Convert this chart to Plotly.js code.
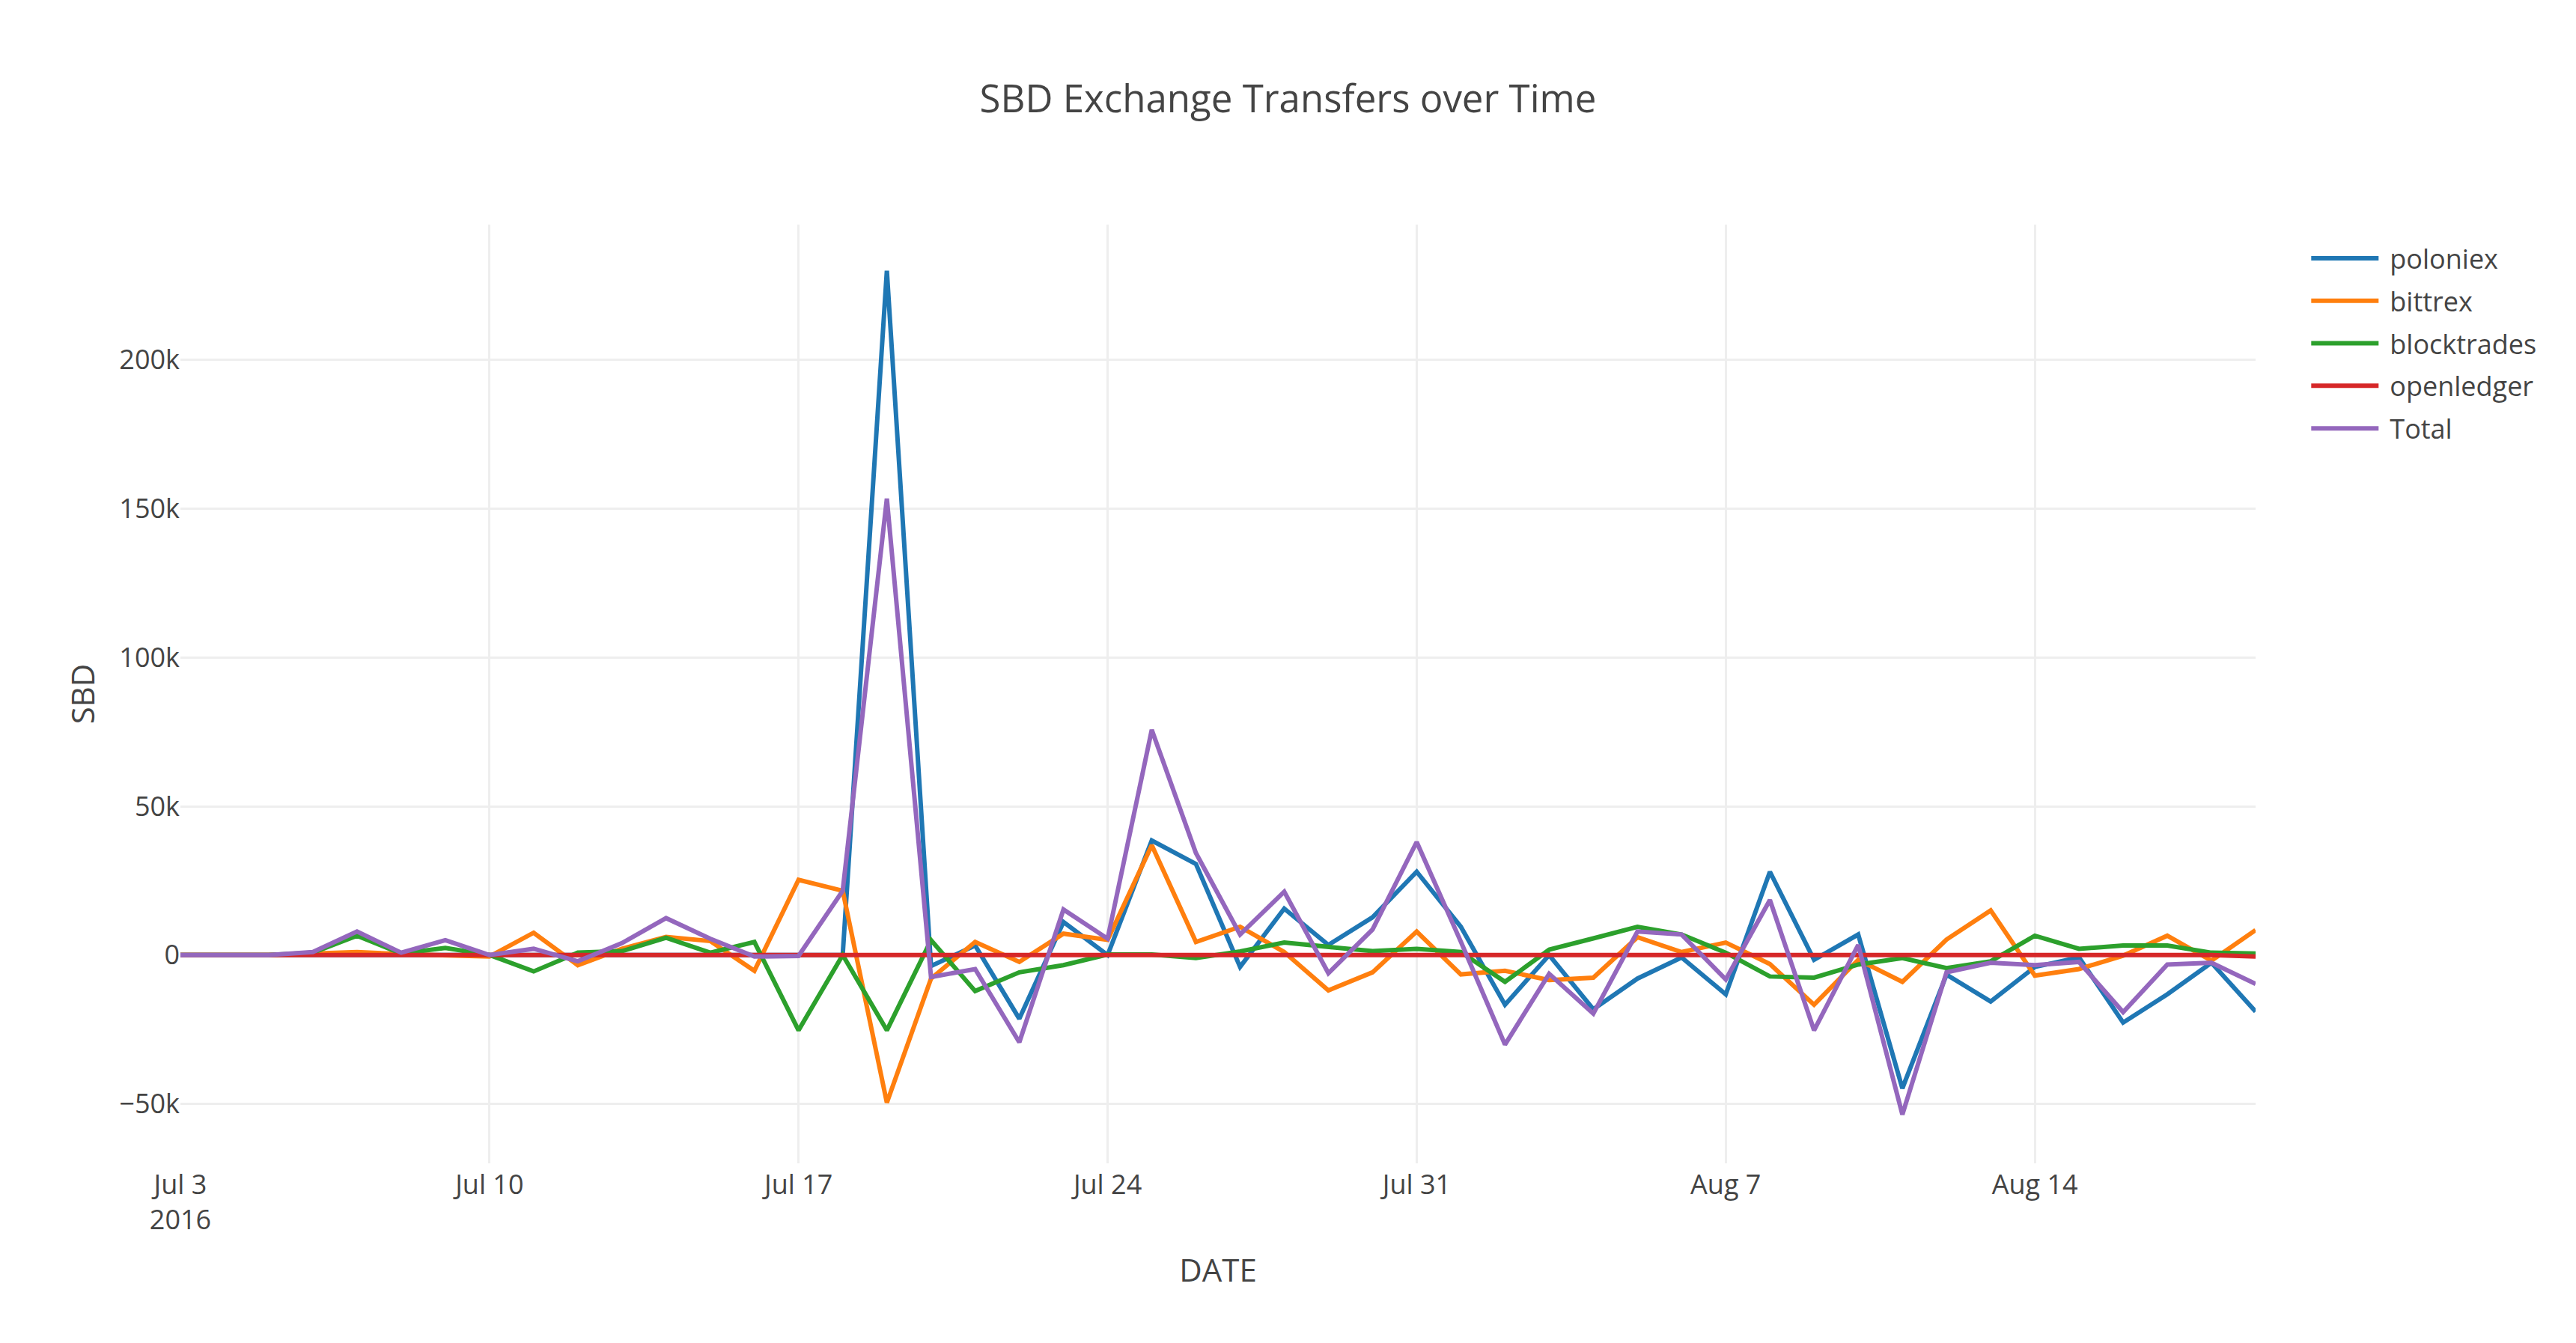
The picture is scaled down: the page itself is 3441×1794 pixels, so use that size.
<!DOCTYPE html>
<html>
<head>
<meta charset="utf-8">
<script src="https://cdn.plot.ly/plotly-3.0.1.min.js"></script>
<style>
  body { margin: 0; background: #fff; }
  #chart { width: 3441px; height: 1794px; }
</style>
</head>
<body>
<div id="chart"></div>
<script>
// daily net transfers, Jul 3 - Aug 19 2016
var dates = [
  '2016-07-03', '2016-07-04', '2016-07-05', '2016-07-06', '2016-07-07', '2016-07-08', '2016-07-09',
  '2016-07-10', '2016-07-11', '2016-07-12', '2016-07-13', '2016-07-14', '2016-07-15', '2016-07-16',
  '2016-07-17', '2016-07-18', '2016-07-19', '2016-07-20', '2016-07-21', '2016-07-22', '2016-07-23',
  '2016-07-24', '2016-07-25', '2016-07-26', '2016-07-27', '2016-07-28', '2016-07-29', '2016-07-30',
  '2016-07-31', '2016-08-01', '2016-08-02', '2016-08-03', '2016-08-04', '2016-08-05', '2016-08-06',
  '2016-08-07', '2016-08-08', '2016-08-09', '2016-08-10', '2016-08-11', '2016-08-12', '2016-08-13',
  '2016-08-14', '2016-08-15', '2016-08-16', '2016-08-17', '2016-08-18', '2016-08-19'
];

var poloniex = [
  0, 0, 0, 0, 0, 0, 0,
  0, 0, 0, 0, 0, 0, 0,
  0, 0, 230000, -3700, 3200, -21400, 11100,
  0, 38500, 30600, -4000, 15600, 3400, 12700,
  28000, 9500, -16700, 0, -18200, -7900, -800,
  -13200, 28000, -1600, 6900, -44800, -6600, -15600,
  -4000, -800, -22700, -13200, -2600, -19000
];

var bittrex = [
  0, 0, 0, 500, 1000, 300, 0,
  -500, 7500, -3400, 2100, 6100, 4700, -5300,
  25300, 21600, -49600, -7900, 4400, -2300, 7200,
  5100, 36900, 4400, 9500, 1000, -11900, -5800,
  7900, -6500, -5300, -8400, -7600, 6000, 1000,
  4200, -3000, -16700, -1600, -9000, 5200, 15000,
  -6900, -4700, -200, 6500, -1900, 8400
];

var blocktrades = [
  0, 0, 0, 800, 6500, 500, 2400,
  0, -5500, 800, 1300, 5800, 800, 4400,
  -25300, 0, -25300, 5000, -12100, -5800, -3400,
  200, 200, -1000, 1200, 4200, 2600, 1300,
  2100, 1000, -9000, 1800, 5600, 9500, 6900,
  800, -7200, -7600, -3200, -1000, -4400, -2100,
  6500, 2100, 3200, 3200, 800, 500
];

var openledger = [
  0, 0, 0, 0, 0, 0, 0,
  0, 0, 0, 0, 0, 0, 0,
  0, 0, 0, 0, 0, 0, 0,
  0, 0, 0, 0, 0, 0, 0,
  0, 0, 0, 0, 0, 0, 0,
  0, 0, 0, 0, 0, 0, 0,
  0, 0, 0, 0, 0, -500
];

var total = [
  0, 0, 0, 1000, 7900, 800, 5000,
  0, 2100, -2100, 4000, 12400, 5500, -500,
  -300, 21600, 153400, -7400, -4700, -29300, 15300,
  5500, 75700, 34300, 6900, 21300, -6100, 8600,
  38000, 4500, -30100, -6300, -19700, 7900, 6900,
  -8200, 18500, -25300, 3400, -53600, -5800, -2600,
  -3400, -2300, -19200, -3200, -2600, -9700
];

var names = ['poloniex', 'bittrex', 'blocktrades', 'openledger', 'Total'];
var colors = ['#1f77b4', '#ff7f0e', '#2ca02c', '#d62728', '#9467bd'];
var series = [poloniex, bittrex, blocktrades, openledger, total];

var traces = [];
for (var i = 0; i < series.length; i++) {
    traces.push({
        x: dates,
        y: series[i],
        type: 'scatter',
        mode: 'lines',
        name: names[i],
        legendgroup: names[i],
        line: { color: colors[i], width: 6 }
    });
}

var font = '"Open Sans", Verdana, Arial, sans-serif';

var layout = {
    width: 3441,
    height: 1794,
    font: { family: font, size: 36, color: '#444' },
    title: {
        text: 'SBD Exchange Transfers over Time',
        font: { size: 51 },
        y: 0.9264,
        yanchor: 'middle'
    },
    margin: { l: 241, r: 428, t: 300, b: 240 },
    paper_bgcolor: '#fff',
    plot_bgcolor: '#fff',
    xaxis: {
        title: { text: 'DATE', font: { size: 42 }, standoff: 30 },
        type: 'date',
        range: ['2016-07-03', '2016-08-19'],
        tick0: '2016-07-03',
        dtick: 7 * 86400000,
        ticklabelstandoff: 4,
        gridcolor: '#eee',
        gridwidth: 3,
        zeroline: false,
        tickfont: { size: 36 }
    },
    yaxis: {
        title: { text: 'SBD', font: { size: 42 }, standoff: 19 },
        range: [-70000, 245500],
        dtick: 50000,
        gridcolor: '#eee',
        gridwidth: 3,
        zeroline: false,
        tickfont: { size: 36 }
    },
    legend: {
        x: 1.025,
        y: 0.988,
        itemwidth: 100,
        tracegroupgap: 7,
        font: { size: 36 }
    },
    showlegend: true
};

Plotly.newPlot('chart', traces, layout, { displayModeBar: false, staticPlot: true }).then(function (gd) {
    // longer legend swatches, like the exported figure
    var paths = gd.querySelectorAll('.legendlines path');
    paths.forEach(function (p) { p.setAttribute('d', 'M5,0h90'); });
});
</script>
</body>
</html>
